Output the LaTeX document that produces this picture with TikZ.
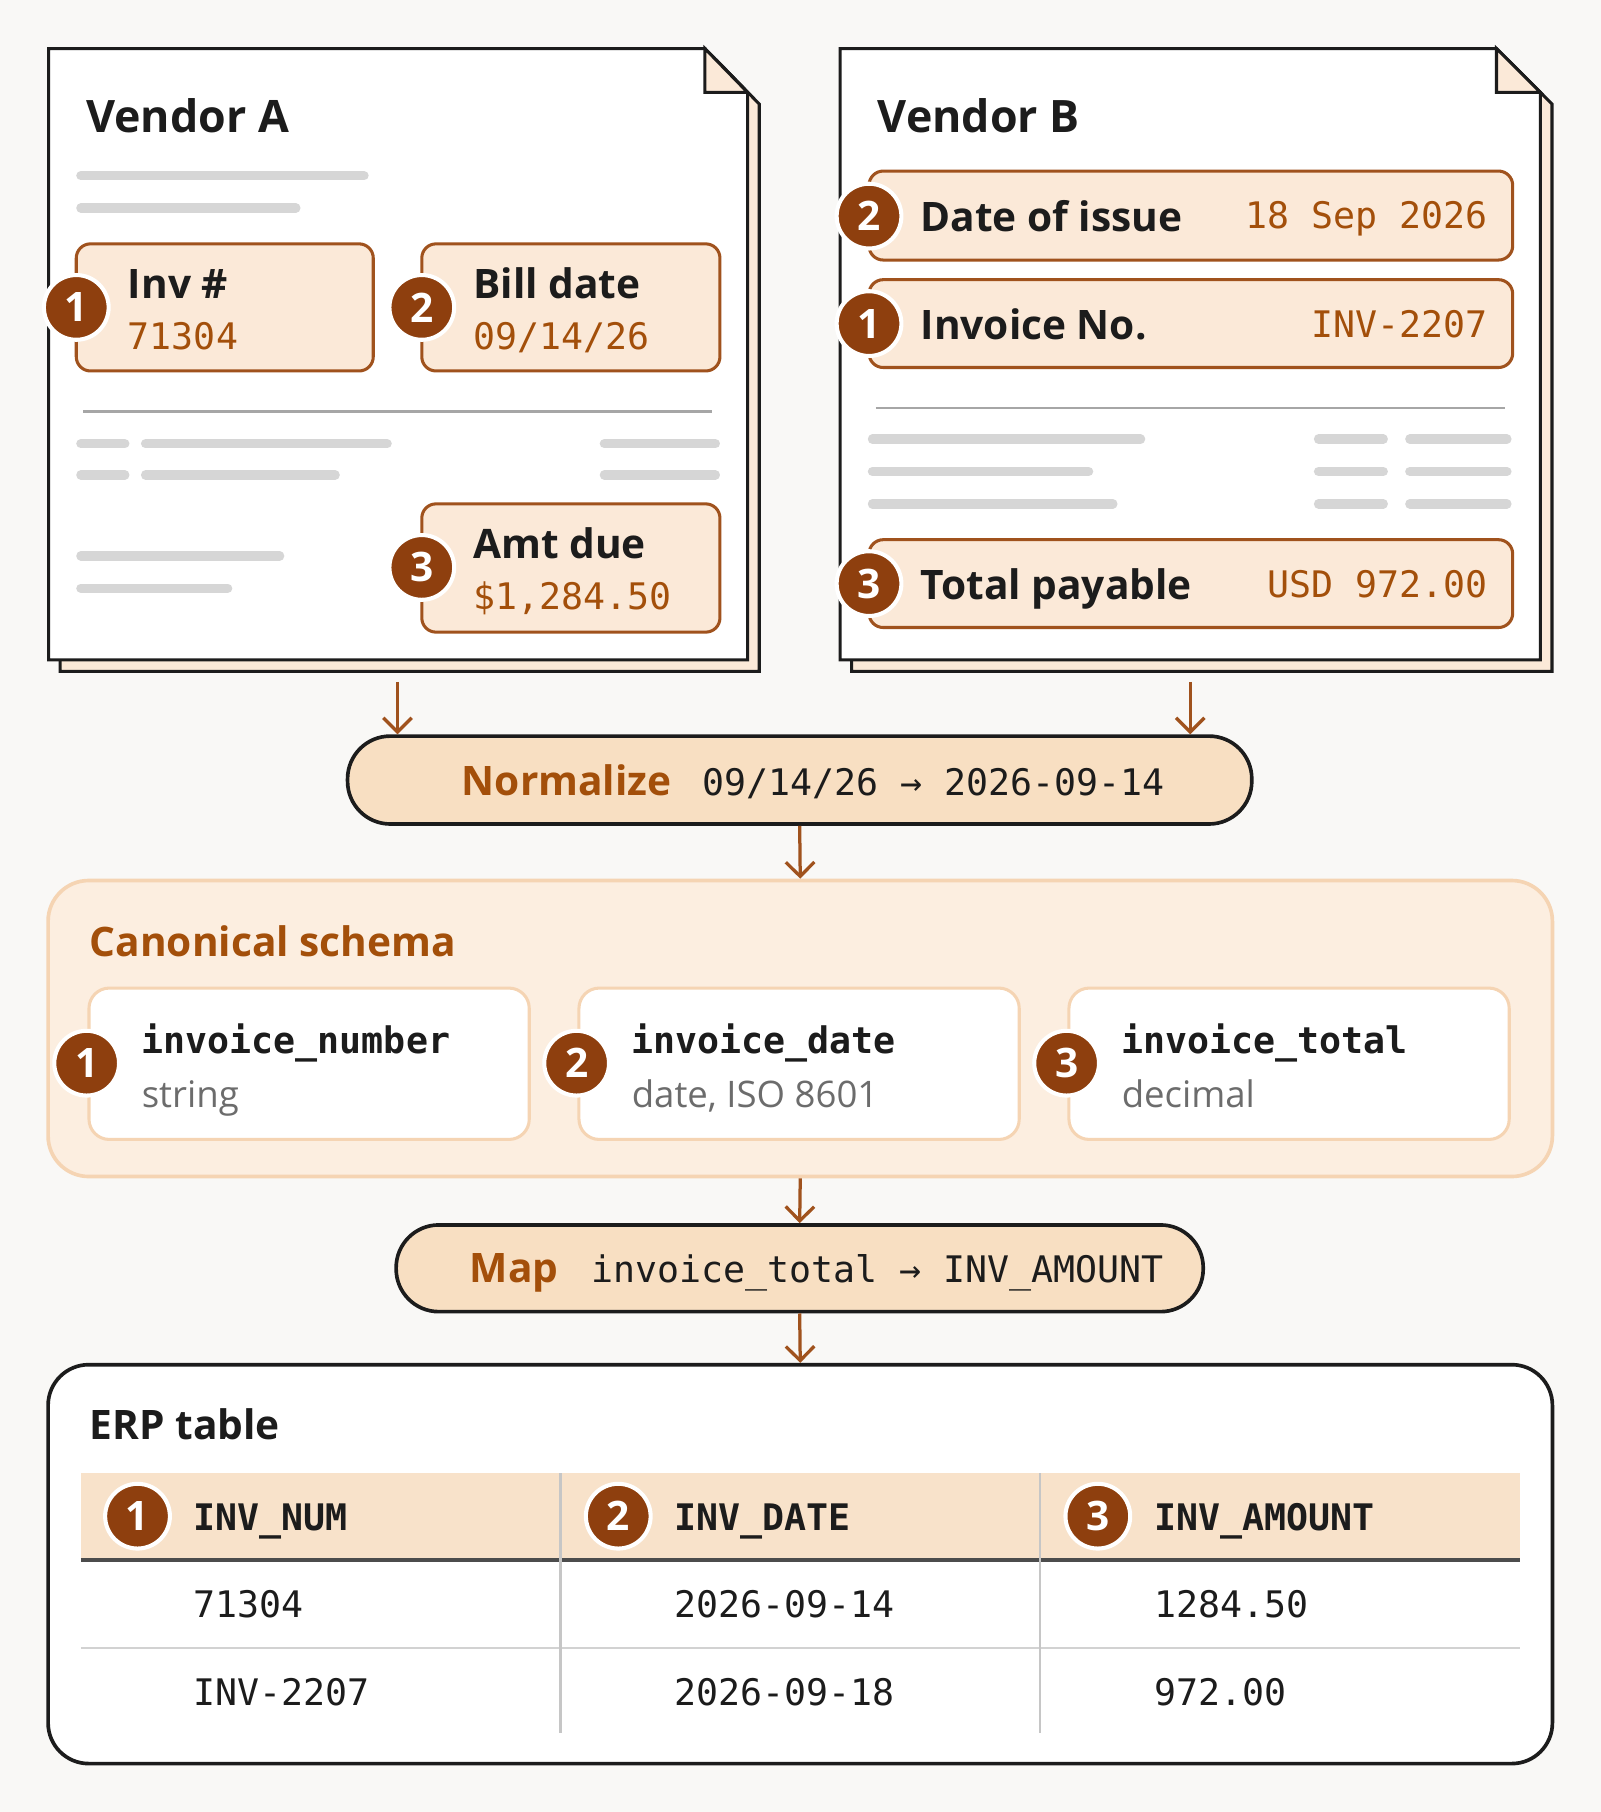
\documentclass[tikz,border=0pt]{standalone}
\usetikzlibrary{arrows.meta}
\usepackage{fontspec}
\setmainfont{Open Sans}
\setsansfont{Open Sans}
\setmonofont{DejaVu Sans Mono}
\begin{document}
\begin{tikzpicture}[x=0.01cm,y=-0.01cm,
  box/.style={draw=brd,fill=boxf,line width=0.75pt,rounded corners=3.5pt},
  bar/.style={draw=grayb,line width=2.3pt,line cap=round},
  sep/.style={draw=gray!70,line width=0.6pt},
  arr/.style={draw=brd,line width=0.8pt,-{Straight Barb[length=3.5pt,width=7pt]}},
  pill/.style={draw=ink,fill=peach,line width=0.9pt,rounded corners=10.5pt},
  badge/.style={circle,fill=badgef,draw=white,line width=1pt,minimum size=0.56cm,inner sep=0pt,text=white,font=\fontsize{10}{10}\selectfont\bfseries},
  lbl/.style={anchor=base west,inner sep=0pt,font=\fontsize{10}{12}\selectfont\bfseries,text=ink},
  val/.style={anchor=base west,inner sep=0pt,font=\fontsize{9}{12}\ttfamily,text=orng},
  card/.style={draw=peachline,fill=white,line width=0.75pt,rounded corners=5pt},
  hdr/.style={anchor=base west,inner sep=0pt,font=\fontsize{9}{12}\ttfamily\bfseries,text=ink},
  cell/.style={anchor=base west,inner sep=0pt,font=\fontsize{9}{12}\ttfamily,text=ink}]
\definecolor{bg}{HTML}{F9F8F6}
\definecolor{brd}{HTML}{A0521D}
\definecolor{boxf}{HTML}{FBE9D8}
\definecolor{badgef}{HTML}{8E3F0E}
\definecolor{orng}{HTML}{A34F0A}
\definecolor{ink}{HTML}{1C1C1C}
\definecolor{grayb}{HTML}{D6D6D6}
\definecolor{peach}{HTML}{F8DFC2}
\definecolor{peachline}{HTML}{F5D4B3}
\definecolor{schem}{HTML}{FCEEE0}
\definecolor{hdrf}{HTML}{F8E2CA}
\fill[bg] (0,0) rectangle (1385,1568);
\useasboundingbox (0,0) rectangle (1385,1568);
% Vendor A page
\filldraw[fill=boxf,draw=ink,line width=0.75pt] (52,52) -- (620,52) -- (657,90) -- (657,581) -- (52,581) -- cycle;
\filldraw[fill=white,draw=ink,line width=0.75pt] (42,42) -- (610,42) -- (647,80) -- (647,571) -- (42,571) -- cycle;
\filldraw[fill=boxf,draw=ink,line width=0.75pt] (610,42) -- (610,80) -- (647,80) -- cycle;
\node[lbl,font=\fontsize{11}{12}\selectfont\bfseries] (va) at (74,115) {Vendor A};
\draw[bar] (70,152) -- (315,152); \draw[bar] (70,180) -- (256,180);
\draw[box] (66,211) rectangle (323,321);
\node[badge] (a1) at (66,266) {1};
\node[lbl] (a1t) at (110,258) {Inv \#};
\node[val] (a1v) at (110,302) {71304};
\draw[box] (365,211) rectangle (623,321);
\node[badge] (a2) at (365,266) {2};
\node[lbl] (a2t) at (409,258) {Bill date};
\node[val] (a2v) at (409,302) {09/14/26};
\draw[sep] (72,356) -- (616,356);
\draw[bar] (70,384) -- (108,384); \draw[bar] (126,384) -- (335,384); \draw[bar] (523,384) -- (619,384);
\draw[bar] (70,411) -- (108,411); \draw[bar] (126,411) -- (290,411); \draw[bar] (523,411) -- (619,411);
\draw[bar] (70,481) -- (242,481); \draw[bar] (70,509) -- (197,509);
\draw[box] (365,436) rectangle (623,547);
\node[badge] (a3) at (365,491) {3};
\node[lbl] (a3t) at (409,483) {Amt due};
\node[val] (a3v) at (409,527) {\$1,284.50};
% Vendor B page
\filldraw[fill=boxf,draw=ink,line width=0.75pt] (737,52) -- (1305,52) -- (1343,90) -- (1343,581) -- (737,581) -- cycle;
\filldraw[fill=white,draw=ink,line width=0.75pt] (727,42) -- (1295,42) -- (1333,80) -- (1333,571) -- (727,571) -- cycle;
\filldraw[fill=boxf,draw=ink,line width=0.75pt] (1295,42) -- (1295,80) -- (1333,80) -- cycle;
\node[lbl,font=\fontsize{11}{12}\selectfont\bfseries] (vb) at (759,115) {Vendor B};
\draw[box] (752,148) rectangle (1309,225);
\node[badge] (b2) at (752,187) {2};
\node[lbl] (b2t) at (796,200) {Date of issue};
\node[val,anchor=base east] (b2v) at (1288,198) {18 Sep 2026};
\draw[box] (752,242) rectangle (1309,318);
\node[badge] (b1) at (752,280) {1};
\node[lbl] (b1t) at (796,294) {Invoice No.};
\node[val,anchor=base east] (b1v) at (1288,292) {INV-2207};
\draw[sep] (758,353) -- (1302,353);
\foreach \y/\l in {380/987,408/942,436/963}{
  \draw[bar] (755,\y) -- (\l,\y); \draw[bar] (1141,\y) -- (1197,\y); \draw[bar] (1220,\y) -- (1304,\y);}
\draw[box] (752,467) rectangle (1309,543);
\node[badge] (b3) at (752,505) {3};
\node[lbl] (b3t) at (796,519) {Total payable};
\node[val,anchor=base east] (b3v) at (1288,517) {USD 972.00};
% Normalize
\coordinate (pa) at (344,590); \coordinate (pb) at (1030,590);
\node[pill,minimum width=7.82cm,minimum height=0.76cm] (norm) at (692,675) {};
\node[lbl,text=orng] (normt) at (399,688) {Normalize};
\node[cell] (normv) at (607,688) {09/14/26 → 2026-09-14};
\draw[arr] (pa) -- (pa |- norm.north);
\draw[arr] (pb) -- (pb |- norm.north);
% Canonical schema
\node[draw=peachline,fill=schem,line width=0.9pt,rounded corners=10pt,minimum width=13.01cm,minimum height=2.56cm] (schema) at (692.5,890) {};
\draw[arr] (norm.south) -- (schema.north);
\node[lbl,text=orng] (scht) at (77,828) {Canonical schema};
\foreach \x/\n/\f/\t in {77/1/invoice\_number/string,501/2/invoice\_date/{date, ISO 8601},925/3/invoice\_total/decimal}{
  \draw[card] (\x,855) rectangle (\x+381,986);
  \node[badge] (c\n) at (\x-2,920) {\n};
  \node[hdr] (c\n t) at (\x+45,912) {\f};
  \node[anchor=base west,inner sep=0pt,font=\fontsize{9}{12}\selectfont,text=gray!85!black] (c\n s) at (\x+45,958) {\t};
}
% Map
\node[pill,minimum width=6.98cm,minimum height=0.75cm] (map) at (692,1097.5) {};
\draw[arr] (schema.south) -- (map.north);
\node[lbl,text=orng] (mapt) at (406,1110) {Map};
\node[cell] (mapv) at (511,1110) {invoice\_total → INV\_AMOUNT};
% ERP
\node[draw=ink,fill=white,line width=0.9pt,rounded corners=10pt,minimum width=13.01cm,minimum height=3.45cm] (erp) at (692.5,1353.5) {};
\draw[arr] (map.south) -- (erp.north);
\node[lbl] (erpt) at (77,1246) {ERP table};
\fill[hdrf] (70,1275) rectangle (1315,1349);
\draw[line width=0.9pt,draw=gray!60!black] (70,1350) -- (1315,1350);
\draw[sep,draw=gray!35] (70,1426) -- (1315,1426);
\draw[sep,draw=gray!45] (485,1275) -- (485,1500);
\draw[sep,draw=gray!45] (900,1275) -- (900,1500);
\node[badge] (e1) at (119,1312) {1}; \node[hdr] (h1) at (167,1324) {INV\_NUM};
\node[badge] (e2) at (535,1312) {2}; \node[hdr] (h2) at (583,1324) {INV\_DATE};
\node[badge] (e3) at (950,1312) {3}; \node[hdr] (h3) at (998,1324) {INV\_AMOUNT};
\node[cell] (r11) at (167,1400) {71304};
\node[cell] (r12) at (583,1400) {2026-09-14};
\node[cell] (r13) at (998,1400) {1284.50};
\node[cell] (r21) at (167,1476) {INV-2207};
\node[cell] (r22) at (583,1476) {2026-09-18};
\node[cell] (r23) at (998,1476) {972.00};
\end{tikzpicture}
\end{document}
